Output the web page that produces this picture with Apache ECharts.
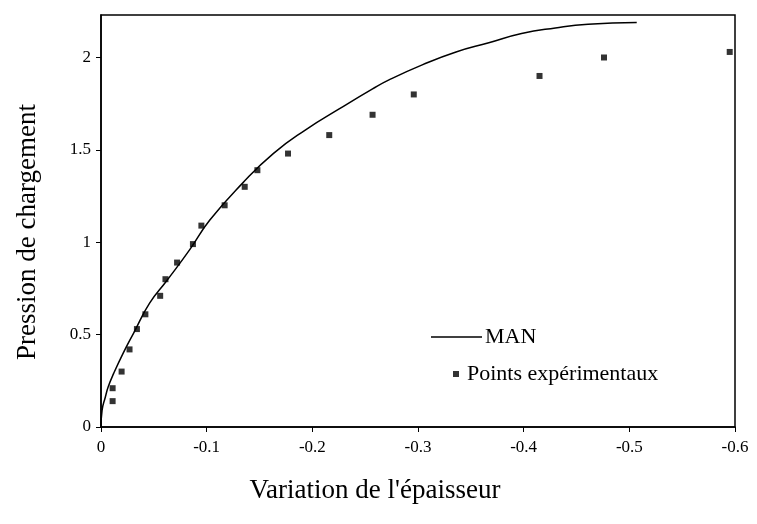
<!DOCTYPE html>
<html>
<head>
<meta charset="utf-8">
<script src="https://cdn.jsdelivr.net/npm/echarts@6/dist/echarts.min.js"></script>
<style>
    html, body { margin: 0; padding: 0; background: #fff; }
    #chart { width: 757px; height: 524px; }
</style>
</head>
<body>
<div id="chart"></div>
<script>
// courbe MAN (modèle) : variation d'épaisseur / pression
var manX = [0, -0.001, -0.004, -0.007, -0.012, -0.021, -0.031, -0.046, -0.062, -0.084, -0.103,
    -0.134, -0.163, -0.194, -0.225, -0.257, -0.273, -0.304, -0.336, -0.367, -0.398, -0.430, -0.461, -0.507];
var manY = [0, 0.09, 0.16, 0.22, 0.29, 0.40, 0.51, 0.67, 0.79, 0.96, 1.12,
    1.32, 1.48, 1.61, 1.72, 1.83, 1.88, 1.96, 2.03, 2.08, 2.13, 2.16, 2.18, 2.19];

// points expérimentaux
var expX = [-0.011, -0.011, -0.0195, -0.027, -0.034, -0.042, -0.056, -0.061, -0.072, -0.087, -0.095,
    -0.117, -0.136, -0.148, -0.177, -0.216, -0.257, -0.296, -0.415, -0.476, -0.595];
var expY = [0.14, 0.21, 0.30, 0.42, 0.53, 0.61, 0.71, 0.80, 0.89, 0.99, 1.09,
    1.20, 1.30, 1.39, 1.48, 1.58, 1.69, 1.80, 1.90, 2.00, 2.03];

var yTicks = [0, 0.5, 1, 1.5, 2];

var serif = '"Liberation Serif", "DejaVu Serif", serif';

function zip(xs, ys) {
    return xs.map(function (x, i) { return [x, ys[i]]; });
}

var chart = echarts.init(document.getElementById('chart'));

chart.setOption({
    animation: false,
    backgroundColor: '#fff',
    grid: {
        left: 101, right: 22, top: 15, bottom: 97,
        show: true,
        borderColor: '#000',
        borderWidth: 1.5
    },
    legend: [
        {
            left: 426, top: 321,
            orient: 'vertical',
            selectedMode: false,
            icon: 'rect',
            itemWidth: 51, itemHeight: 1.5,
            itemGap: 4,
            data: ['MAN'],
            textStyle: { fontFamily: serif, fontSize: 22, color: '#000', padding: [0, 0, 0, -2] }
        },
        {
            left: 448, top: 358,
            orient: 'vertical',
            selectedMode: false,
            icon: 'rect',
            itemWidth: 6, itemHeight: 6,
            itemGap: 4,
            data: ['Points expérimentaux'],
            textStyle: { fontFamily: serif, fontSize: 22, color: '#000', padding: [0, 0, 0, 3] }
        }
    ],
    xAxis: {
        type: 'value',
        inverse: true,
        min: -0.6, max: 0, interval: 0.1,
        splitLine: { show: false },
        axisLine: { lineStyle: { color: '#000', width: 1.5 } },
        axisTick: { inside: false, length: 5, lineStyle: { color: '#000' } },
        axisLabel: {
            fontFamily: serif, fontSize: 17, color: '#000', margin: 12,
            formatter: function (v) { return v === 0 ? '0' : v.toFixed(1); }
        },
        name: "Variation de l'épaisseur",
        nameLocation: 'middle',
        nameGap: 50,
        nameTextStyle: { fontFamily: serif, fontSize: 27, color: '#000', padding: [0, 86, 0, 0] }
    },
    yAxis: {
        type: 'value',
        min: 0, max: 2.23,
        splitLine: { show: false },
        axisLine: { lineStyle: { color: '#000', width: 1.5 } },
        axisTick: { length: 5, lineStyle: { color: '#000' }, customValues: yTicks },
        axisLabel: {
            fontFamily: serif, fontSize: 17, color: '#000', margin: 10,
            customValues: yTicks
        },
        name: 'Pression de chargement',
        nameLocation: 'middle',
        nameGap: 60,
        nameTextStyle: { fontFamily: serif, fontSize: 27, color: '#000', padding: [0, 22, 0, 0] }
    },
    series: [
        {
            name: 'MAN',
            type: 'line',
            smooth: true,
            showSymbol: false,
            data: zip(manX, manY),
            lineStyle: { color: '#000', width: 1.5 },
            itemStyle: { color: '#000' }
        },
        {
            name: 'Points expérimentaux',
            type: 'scatter',
            symbol: 'rect',
            symbolSize: 6,
            data: zip(expX, expY),
            itemStyle: { color: '#000' }
        }
    ]
});
</script>
</body>
</html>
